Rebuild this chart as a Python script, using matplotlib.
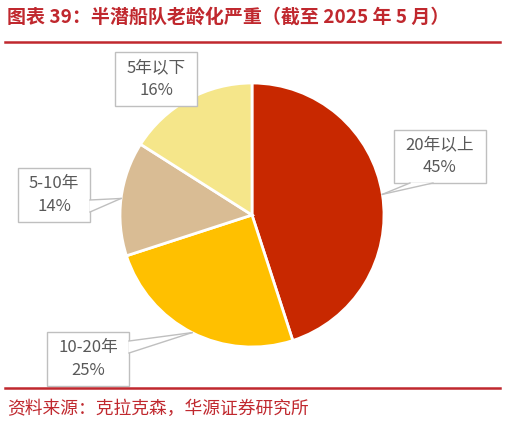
import numpy as np
import matplotlib
matplotlib.use("Agg")
import matplotlib.pyplot as plt
from matplotlib.lines import Line2D
from matplotlib.patches import Rectangle, Polygon

plt.rcParams['font.family'] = ['Noto Sans CJK SC', 'DejaVu Sans']

# data
labels = ['20年以上', '10-20年', '5-10年', '5年以下']
shares = [45, 25, 14, 16]
colors = ['#C82800', '#FFC000', '#D9BC94', '#F5E68A']

title = '图表 39：半潜船队老龄化严重（截至 2025 年 5 月）'
source = '资料来源：克拉克森，华源证券研究所'

W, H = 506, 422
red = '#C0282E'
gray = '#BFBFBF'

# callout boxes in image pixels: x0, y0, x1, y1 (y from top)
boxes = [(394, 130, 486, 183), (47, 332, 129, 386), (18, 168, 90, 222), (115, 52, 197, 106)]
# pointer base on the box edge (two points), None = no pointer
bases = [((410, 183), (433, 183)), ((129, 341), (129, 353)),
         ((90, 200), (90, 212)), None]

fig = plt.figure(figsize=(W / 100, H / 100), dpi=100)

cx, cy, r = 252, 215, 132
ax = fig.add_axes([(cx - r) / W, (H - cy - r) / H, 2 * r / W, 2 * r / H])
wedges, _ = ax.pie(shares, colors=colors, startangle=90, counterclock=False,
                   wedgeprops=dict(edgecolor='white', linewidth=2))
ax.set_xlim(-1, 1)
ax.set_ylim(-1, 1)
ax.set_aspect('equal')
ax.axis('off')

fig.canvas.draw()
to_px = ax.transData

for w, lab, val, (x0, y0, x1, y1), base in zip(wedges, labels, shares, boxes, bases):
    fig.add_artist(Rectangle((x0 / W, 1 - y1 / H), (x1 - x0) / W, (y1 - y0) / H,
                             transform=fig.transFigure, fc='white', ec=gray, lw=1))
    if base is not None:
        mid = np.deg2rad((w.theta1 + w.theta2) / 2)
        tx, ty = to_px.transform((np.cos(mid), np.sin(mid)))
        tip = (tx / W, ty / H)
        p1 = (base[0][0] / W, 1 - base[0][1] / H)
        p2 = (base[1][0] / W, 1 - base[1][1] / H)
        fig.add_artist(Polygon([p1, tip, p2], closed=True, transform=fig.transFigure,
                               fc='white', ec='none', zorder=2))
        for p in (p1, p2):
            fig.add_artist(Line2D([p[0], tip[0]], [p[1], tip[1]], color=gray,
                                  lw=1, zorder=2.1))
    fig.text((x0 + x1) / 2 / W, 1 - (y0 + y1) / 2 / H, f'{lab}\n{val}%',
             ha='center', va='center', fontsize=12, color='#595959',
             linespacing=1.45, zorder=3)

fig.text(7 / W, 1 - 17 / H, title, ha='left', va='center', fontsize=13.7,
         fontweight='bold', color=red)
fig.add_artist(Line2D([5 / W, 500 / W], [1 - 41.5 / H] * 2, color=red, lw=1.8))
fig.add_artist(Line2D([5 / W, 500 / W], [1 - 388 / H] * 2, color=red, lw=1.8))
fig.text(7 / W, 1 - 409 / H, source, ha='left', va='center', fontsize=12.8,
         color=red)

fig.savefig('out.png', dpi=100)
